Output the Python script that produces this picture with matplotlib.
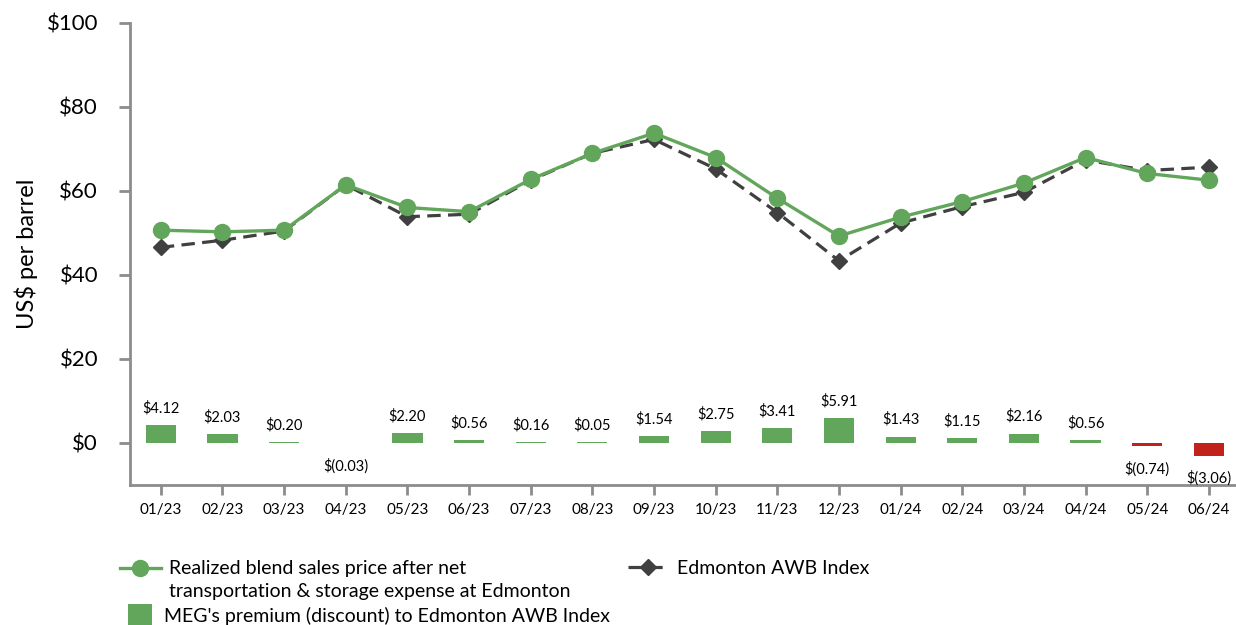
import matplotlib
matplotlib.use("Agg")
import matplotlib.pyplot as plt
from matplotlib.lines import Line2D
from matplotlib.patches import Patch
from matplotlib.legend_handler import HandlerLine2D

plt.rcParams['font.family'] = ['Lato', 'DejaVu Sans']

months = ["01/23", "02/23", "03/23", "04/23", "05/23", "06/23", "07/23", "08/23", "09/23",
          "10/23", "11/23", "12/23", "01/24", "02/24", "03/24", "04/24", "05/24", "06/24"]
realized = [50.6, 50.2, 50.6, 61.4, 56.0, 55.0, 62.7, 68.9, 73.7,
            67.9, 58.2, 49.2, 53.7, 57.4, 61.8, 67.9, 64.1, 62.5]
awb_index = [46.5, 48.2, 50.4, 61.4, 53.8, 54.4, 62.5, 68.9, 72.2,
             65.2, 54.8, 43.3, 52.3, 56.2, 59.6, 67.3, 64.8, 65.6]
premium = [4.12, 2.03, 0.20, -0.03, 2.20, 0.56, 0.16, 0.05, 1.54,
           2.75, 3.41, 5.91, 1.43, 1.15, 2.16, 0.56, -0.74, -3.06]
y_ticks = [0, 20, 40, 60, 80, 100]

GREEN = "#62a65b"
RED = "#c1221b"
DARK = "#404040"
SPINE = "#8c8c8c"


class UpHandler(HandlerLine2D):
    def __init__(self, dy=0, **kw):
        super().__init__(**kw)
        self.dy = dy

    def create_artists(self, legend, orig_handle, xdescent, ydescent, width, height, fontsize, trans):
        return super().create_artists(legend, orig_handle, xdescent, ydescent,
                                      width, height + 2 * self.dy, fontsize, trans)


fig = plt.figure(figsize=(12.36, 6.25), dpi=100)
ax = fig.add_axes([0.1052, 0.2245, 0.8953, 0.7392])

x = list(range(len(months)))
bar_colors = [GREEN if v >= 0 else RED for v in premium]
ax.bar(x, premium, width=0.49, color=bar_colors, zorder=2)

for xi, v in zip(x, premium):
    if v >= 0:
        lab = f"${v:.2f}"
        ax.annotate(lab, (xi, v), xytext=(0, 7), textcoords="offset points",
                    ha="center", va="bottom", fontsize=10.5, color="black")
    else:
        lab = f"$({abs(v):.2f})"
        ax.annotate(lab, (xi, v), xytext=(0, -11), textcoords="offset points",
                    ha="center", va="top", fontsize=10.5, color="black")

ax.plot(x, awb_index, color=DARK, lw=2.3, dashes=(4.2, 2.3), marker="D",
        markersize=8, markerfacecolor=DARK, markeredgecolor=DARK, zorder=3)
ax.plot(x, realized, color=GREEN, lw=2.4, marker="o", markersize=11.5,
        markerfacecolor=GREEN, markeredgecolor=GREEN, zorder=4)

ax.set_xlim(-0.5, 17.45)
ax.set_ylim(-10, 100)
ax.set_yticks(y_ticks)
ax.set_yticklabels([f"${t}" for t in y_ticks], fontsize=16)
ax.set_xticks(x)
ax.set_xticklabels(months, fontsize=11)

for s in ["top", "right"]:
    ax.spines[s].set_visible(False)
for s in ["left", "bottom"]:
    ax.spines[s].set_color(SPINE)
    ax.spines[s].set_linewidth(2)
ax.tick_params(axis="y", length=8, width=2, color=SPINE, pad=15)
ax.tick_params(axis="x", length=7, width=2, color=SPINE, pad=6)
ax.set_ylabel("US$ per barrel", fontsize=17, labelpad=6)

# legend
h1 = Line2D([], [], color=GREEN, lw=2.4, marker="o", markersize=11.5)
h2 = Line2D([], [], color=DARK, lw=2.3, dashes=(4.2, 2.3), marker="D", markersize=8)
h3 = Patch(facecolor=GREEN)
leg1 = fig.legend([h1], ["Realized blend sales price after net\ntransportation & storage expense at Edmonton"],
                  loc="upper left", bbox_to_anchor=(0.097, 0.104), frameon=False,
                  fontsize=14, handlelength=2.1, handletextpad=0.45, borderpad=0, borderaxespad=0,
                  handler_map={h1: UpHandler(dy=8.6)})
leg1.get_texts()[0].set_linespacing(1.45)
leg2 = fig.legend([h2], ["Edmonton AWB Index"], loc="upper left", bbox_to_anchor=(0.508, 0.104),
                  frameon=False, fontsize=14, handlelength=2.1, handletextpad=0.45,
                  borderpad=0, borderaxespad=0)
leg3 = fig.legend([h3], ["MEG's premium (discount) to Edmonton AWB Index"], loc="center left",
                  bbox_to_anchor=(0.1036, 0.016), frameon=False, fontsize=14,
                  handlelength=1.25, handleheight=1.3, handletextpad=0.6, borderpad=0, borderaxespad=0)

fig.savefig("out.png", dpi=100)
